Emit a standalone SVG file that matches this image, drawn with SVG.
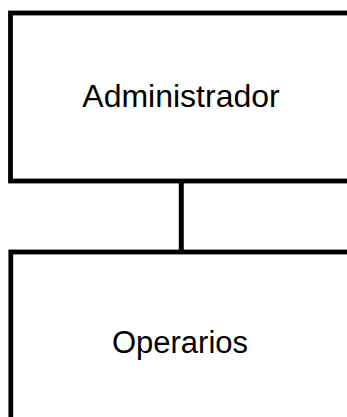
<svg xmlns="http://www.w3.org/2000/svg" width="347" height="417" viewBox="0 0 347 417">
<style>
.box{fill:#fff;stroke:#000;stroke-width:4.8}
.lbl{font-family:"Liberation Sans",Arial,sans-serif;fill:#000;text-anchor:middle}
.conn{stroke:#000;stroke-width:5;fill:none}
</style>
<rect width="347" height="417" fill="#fff"/>
<g id="connectors">
<line class="conn" x1="181.3" y1="181" x2="181.3" y2="252"/>
</g>
<g id="administrador">
<rect class="box" x="10.5" y="13" width="400" height="168"/>
<text class="lbl" x="181" y="107" font-size="32">Administrador</text>
</g>
<g id="operarios">
<rect class="box" x="10.8" y="252" width="400" height="220"/>
<text class="lbl" x="180" y="353" font-size="31">Operarios</text>
</g>
</svg>
